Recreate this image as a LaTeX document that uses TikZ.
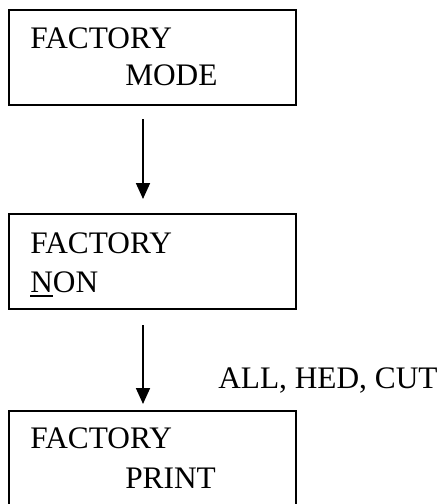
\documentclass[tikz,border=0pt]{standalone}
\usepackage{fontspec}
\setmainfont{Liberation Serif}
\usetikzlibrary{arrows.meta}

\begin{document}
\begin{tikzpicture}[
    x=0.75pt, y=-0.75pt,
    box/.style={draw=black, line width=1.5pt, rectangle, anchor=north west,
      minimum width=215.25pt, minimum height=71.25pt, inner sep=0pt},
    word/.style={anchor=base west, inner sep=0pt, font=\fontsize{23.5}{28}\selectfont},
    flow/.style={draw=black, line width=1.3pt, -{Triangle[width=10.5pt,length=12pt]}}]

    \useasboundingbox (0,0) rectangle (443,504);

    \node[box] (mode) at (8,9) {};
    \node[word] (mode1) at (30,48) {FACTORY};
    \node[word] (mode2) at (125,85) {MODE};

    \node[box] (non) at (8,213) {};
    \node[word] (non1) at (30,253) {FACTORY};
    \node[word] (non2) at (30,292) {\rlap{\rule[-3.5pt]{17pt}{1.5pt}}NON};

    \node[box] (print) at (8,410) {};
    \node[word] (print1) at (30,448) {FACTORY};
    \node[word] (print2) at (125,488) {PRINT};

    \node[word] (cuts) at (218,388) {ALL, HED, CUT};

    \coordinate (ax) at (143,0);
    \draw[flow, shorten <=9.75pt, shorten >=10.5pt] (mode.south -| ax) -- (non.north -| ax);
    \draw[flow, shorten <=11.25pt, shorten >=4.5pt] (non.south -| ax) -- (print.north -| ax);
  \end{tikzpicture}
\end{document}
